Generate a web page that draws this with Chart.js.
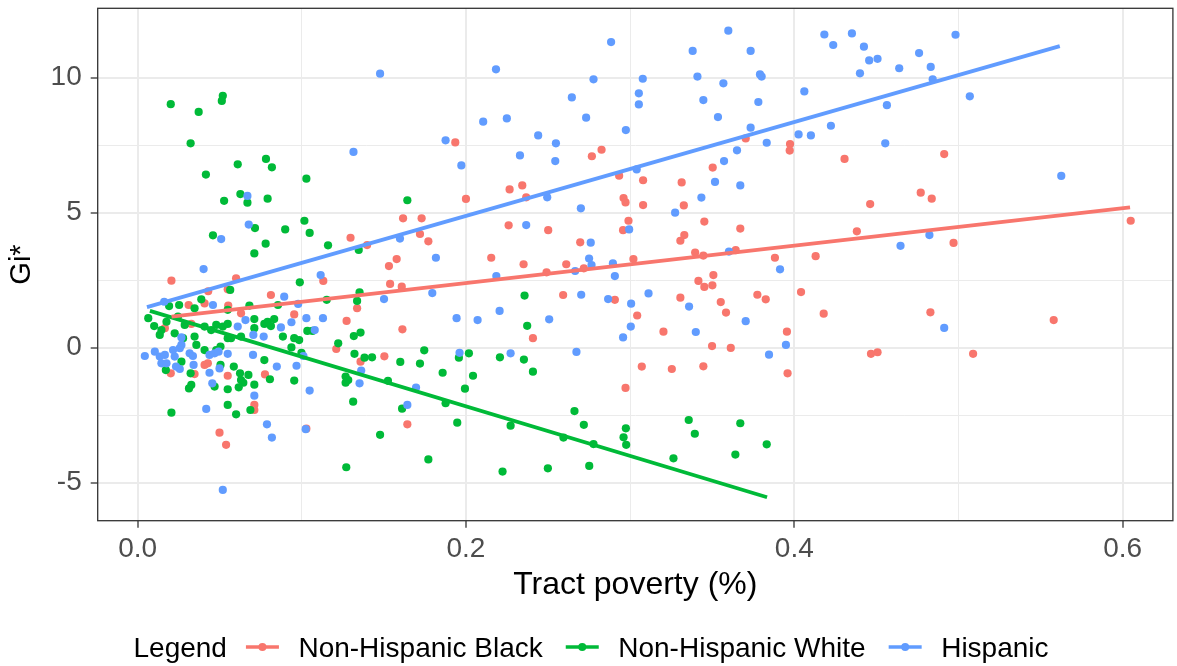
<!DOCTYPE html>
<html><head><meta charset="utf-8">
<script src="https://cdn.jsdelivr.net/npm/chart.js@4.4.0/dist/chart.umd.min.js"></script>
<style>html,body{margin:0;padding:0;background:#fff;}#wrap{width:1177px;height:666px;}</style>
</head><body><div id="wrap"><canvas id="c" width="1177" height="666"></canvas></div>
<script>
const groups = ['Non-Hispanic Black', 'Non-Hispanic White', 'Hispanic'];
const groupColors = ['#F8766D', '#00BA38', '#619CFF'];
const legendTitle = 'Legend';
const xTitle = 'Tract poverty (%)';
const yTitle = 'Gi*';

const blackPoints = [
[0.1297,4.07],[0.1935,7.60],[0.2826,7.33],[0.2767,7.09],[0.2933,6.37],[0.3079,6.20],[0.2266,5.86],[0.2343,6.01],[0.2367,5.57],[0.2,5.51],[0.296,5.54],[0.2972,5.38],[0.3079,5.28],[0.1617,4.79],[0.173,4.79],[0.172,4.21],[0.1771,3.94],[0.299,4.70],[0.2957,4.35],[0.226,4.53],[0.2501,4.35],[0.2696,3.90],[0.1398,3.80],[0.1578,3.28],[0.2154,3.33],[0.302,3.28],
[0.3704,7.75],[0.3974,7.54],[0.3972,7.30],[0.4306,6.99],[0.3503,6.67],[0.3314,6.12],[0.3327,5.27],[0.4462,5.32],[0.3452,4.67],[0.3671,4.41],[0.4381,4.31],[0.333,4.17],[0.3306,3.96],[0.3396,3.52],[0.3446,3.41],[0.3643,3.61],[0.3882,3.33],[0.413,3.39],
[0.4913,7.17],[0.477,5.74],[0.4837,5.52],[0.6049,4.70],[0.497,3.88],[0.4829,1.31],[0.558,1.02],[0.5089,-0.23],
[0.3416,2.47],[0.3452,2.25],[0.3501,2.31],[0.3507,2.69],[0.3306,1.85],[0.3552,1.69],[0.3584,1.30],[0.3775,1.96],[0.3826,1.79],[0.4041,2.06],[0.4179,1.26],[0.3043,1.19],[0.3203,0.59],[0.3955,0.59],[0.3499,0.06],[0.3613,-0.01],[0.3071,-0.70],[0.3254,-0.79],[0.3446,-0.69],[0.3959,-0.95],[0.4467,-0.23],[0.4507,-0.17],
[0.1531,3.02],[0.2351,3.09],[0.2611,3.09],[0.2718,2.94],[0.2491,2.79],[0.1538,2.36],[0.1609,2.26],[0.2592,1.95],[0.2907,1.77],[0.1613,0.68],[0.2408,0.35],[0.1503,-0.32],[0.2972,-1.49],[0.1643,-2.84],
[0.0206,2.48],[0.06,2.57],[0.0549,2.16],[0.043,2.09],[0.1131,2.47],[0.1337,1.46],[0.0812,1.95],[0.0954,1.23],[0.063,1.27],[0.0552,1.56],[0.0408,1.64],[0.0311,1.58],[0.0166,0.72],[0.0327,0.88],[0.1273,0.99],[0.121,-0.05],[0.1358,-0.52],[0.0776,-0.99],[0.1028,-3.00],[0.0202,-0.95],[0.0408,-0.64],[0.0428,-0.58],[0.0347,-0.98],[0.0549,-1.04],[0.0711,-2.12],[0.0711,-2.31],[0.0499,-3.15],[0.0539,-3.60]
];

const whitePoints = [
[0.0202,9.02],[0.0519,9.33],[0.0513,9.14],[0.0372,8.73],[0.0323,7.57],[0.061,6.79],[0.0782,6.99],[0.0818,6.68],[0.0416,6.41],[0.1028,6.26],[0.0626,5.69],[0.0527,5.44],[0.0669,5.37],[0.0792,5.52],[0.1016,4.70],[0.0715,4.43],[0.0459,4.16],[0.0899,4.38],[0.1048,4.25],[0.078,3.85],[0.0711,3.49],[0.116,3.79],[0.1347,3.62],[0.1643,5.46],
[0.3357,-2.68],[0.3394,-3.19],[0.3671,-2.80],[0.3832,-3.58],[0.3641,-3.96],[0.3264,-4.10],
[0.2357,1.93],[0.2373,0.81],[0.16,-0.53],[0.172,-0.59],[0.1746,-0.10],[0.1957,-0.37],[0.2018,-0.21],[0.2207,-0.36],[0.2353,-0.44],[0.2408,-0.89],[0.1858,-0.93],[0.2043,-1.04],[0.1994,-1.52],[0.1525,-1.23],[0.1876,-2.06],[0.1611,-2.26],[0.1947,-2.78],[0.1477,-3.23],[0.1771,-4.14],[0.2223,-4.59],[0.2272,-2.89],[0.2499,-4.47],[0.2594,-3.33],[0.2661,-2.35],[0.2718,-2.86],[0.2777,-3.57],[0.2751,-4.38],[0.2974,-2.99],[0.296,-3.32],[0.2976,-3.60],
[0.0564,2.14],[0.0988,2.42],[0.1352,2.05],[0.1337,1.73],[0.1152,1.77],[0.0855,1.58],[0.0681,1.56],[0.0711,1.06],[0.0549,1.40],[0.0388,1.79],[0.0253,1.58],[0.0192,1.54],[0.0347,1.46],[0.0065,1.09],[0.0101,0.80],[0.0135,0.47],[0.0145,0.65],[0.0176,0.96],[0.0246,1.15],[0.0287,0.84],[0.0226,0.53],[0.0277,0.35],[0.0358,0.10],[0.0347,0.41],[0.0408,0.78],[0.0448,0.65],[0.0479,0.84],[0.0519,0.78],[0.0549,0.88],[0.063,0.41],[0.0711,0.72],[0.0772,0.88],[0.0792,0.96],[0.0832,1.06],[0.0812,0.80],[0.0885,0.41],[0.1034,0.62],[0.1065,0.62],[0.0954,0.35],[0.0984,0.28],[0.0937,0.01],[0.0998,-0.19],[0.1222,0.16],[0.1317,0.43],[0.1358,0.56],[0.1321,-0.23],[0.1382,-0.37],[0.1428,-0.36],[0.1267,-1.07],[0.1283,-1.20],[0.1267,-1.30],[0.1313,-2.00],[0.1271,-4.43],[0.0772,-0.46],[0.0806,-1.17],[0.0954,-1.22],[0.0505,0.04],[0.0408,-0.09],[0.0479,-0.09],[0.0549,0.35],[0.0569,0.35],[0.0172,-0.83],[0.0267,-0.52],[0.0505,-0.64],[0.0323,-0.95],[0.0586,-0.70],[0.0624,-0.95],[0.0675,-1.01],[0.063,-1.20],[0.0644,-1.30],[0.0616,-1.47],[0.0711,-1.37],[0.0549,-1.54],[0.0469,-1.44],[0.0327,-1.38],[0.0313,-1.51],[0.0549,-2.12],[0.06,-2.47],[0.0687,-2.31],[0.0206,-2.41]
];

const hispanicPoints = [
[0.1315,7.25],[0.0669,5.62],[0.0677,4.56],[0.0509,4.02],
[0.1477,10.15],[0.2183,10.31],[0.2884,11.32],[0.2777,9.94],[0.3077,9.96],[0.3053,9.42],[0.3053,9.01],[0.2645,9.27],[0.2732,8.52],[0.2105,8.37],[0.2249,8.49],[0.2974,8.06],[0.244,7.86],[0.2548,7.57],[0.1876,7.68],[0.2329,7.12],[0.2544,6.91],[0.1972,6.75],[0.304,6.60],[0.2495,5.57],[0.27,5.16],[0.2367,4.54],[0.1598,4.04],[0.1817,3.33],[0.275,3.30],[0.276,3.89],[0.2994,4.38],
[0.3598,11.74],[0.3381,10.99],[0.3734,10.99],[0.341,10.04],[0.3568,9.79],[0.3791,10.12],[0.3801,10.04],[0.3446,9.17],[0.3781,9.10],[0.3535,8.54],[0.3734,8.15],[0.4061,9.49],[0.4183,11.60],[0.4237,11.21],[0.4351,11.64],[0.4424,11.15],[0.4456,10.64],[0.4507,10.70],[0.44,10.16],[0.4639,10.35],[0.4564,8.98],[0.4223,8.22],[0.4026,7.90],[0.4101,7.86],[0.3832,7.59],[0.4554,7.57],[0.3651,7.31],[0.3572,6.91],[0.3517,6.14],[0.3671,6.01],[0.3434,5.56],[0.3274,5.00],[0.4647,3.77],[0.3602,3.56],
[0.4982,11.59],[0.476,10.91],[0.4831,10.40],[0.4843,9.94],[0.5069,9.31],[0.5626,6.36],[0.4823,4.17],[0.4913,0.73],
[0.3913,2.90],[0.3112,2.01],[0.3359,1.52],[0.34,0.58],[0.3704,0.98],[0.3846,-0.26],[0.3949,0.10],
[0.2765,3.06],[0.2895,3.12],[0.2665,2.84],[0.2185,2.65],[0.2907,2.65],[0.1501,1.80],[0.1795,2.02],[0.2702,1.96],[0.2866,1.80],[0.3006,1.63],[0.3004,0.78],[0.2957,0.38],[0.2205,1.36],[0.1943,1.09],[0.2071,1.02],[0.2507,1.05],[0.1961,-0.19],[0.2272,-0.21],[0.2673,-0.16],[0.1696,-1.48],[0.1643,-2.12],
[0.0402,2.91],[0.1115,2.69],[0.0893,1.89],[0.0978,1.62],[0.0657,1.02],[0.0459,1.58],[0.0162,1.70],[0.0267,0.38],[0.061,0.78],[0.0705,0.47],[0.0768,0.41],[0.0873,0.75],[0.0937,0.94],[0.1028,1.09],[0.1129,1.09],[0.1079,0.65],[0.101,-0.31],[0.1362,-0.85],[0.1352,-1.32],[0.0848,-0.70],[0.0968,-0.67],[0.1048,-1.59],[0.1024,-3.02],[0.0788,-2.84],[0.0818,-3.33],[0.0703,-0.27],[0.0549,-0.23],[0.0438,-0.27],[0.0469,-0.21],[0.0493,-0.15],[0.0044,-0.31],[0.0105,-0.15],[0.0135,-0.33],[0.0145,-0.58],[0.0166,-0.27],[0.0216,-0.09],[0.0226,-0.33],[0.0257,-0.02],[0.0267,0.10],[0.0317,-0.21],[0.0337,-0.31],[0.0341,-0.64],[0.0234,-0.70],[0.0257,-0.79],[0.0176,-0.58],[0.0499,-0.77],[0.0438,-0.93],[0.0711,-1.78],[0.0455,-1.32],[0.0418,-2.27],[0.0519,-5.27]
];

// fitted regression lines (start and end)
const blackFit = [[0.0207,1.15],[0.6045,5.20]];
const whiteFit = [[0.0075,1.36],[0.3834,-5.54]];
const hispanicFit = [[0.0057,1.50],[0.5617,11.17]];

const xGridValues = [0, 0.1, 0.2, 0.3, 0.4, 0.5, 0.6];
const xMajorValues = [0, 0.2, 0.4, 0.6];
const xTickLabels = ['0.0', '0.2', '0.4', '0.6'];
const yGridValues = [-5, -2.5, 0, 2.5, 5, 7.5, 10];
const yMajorValues = [-5, 0, 5, 10];
const yTickLabels = ['-5', '0', '5', '10'];
const xRange = [-0.0243, 0.6306];
const yRange = [-6.41, 12.57];

const FONT = "'Liberation Sans', Arial, sans-serif";
const toXY = arr => arr.map(p => ({x: p[0], y: p[1]}));
const majorIdx = (list, v) => list.findIndex(m => Math.abs(m - v) < 1e-9);

const pointSets = [blackPoints, whitePoints, hispanicPoints];
const fitSets = [blackFit, whiteFit, hispanicFit];
const datasets = [];
fitSets.forEach((f, i) => datasets.push({
  label: groups[i] + ' fit', data: toXY(f), showLine: true, borderColor: groupColors[i],
  borderWidth: 3.8, pointRadius: 0, pointHoverRadius: 0, fill: false, order: 0
}));
pointSets.forEach((p, i) => datasets.push({
  label: groups[i], data: toXY(p), showLine: false, backgroundColor: groupColors[i],
  borderWidth: 0, pointRadius: 4.1, pointHoverRadius: 4.1, order: 3 - i
}));

const frame = {
  id: 'frame',
  afterDraw(chart) {
    const {ctx, chartArea: a} = chart;
    ctx.save();
    ctx.strokeStyle = '#333333';
    ctx.lineWidth = 1.3;
    ctx.strokeRect(a.left, a.top, a.right - a.left, a.bottom - a.top);
    // legend
    ctx.font = '28px ' + FONT;
    ctx.textBaseline = 'alphabetic';
    ctx.fillStyle = '#000';
    const baseY = 657, keyY = 647;
    let x = 133.5;
    ctx.fillText(legendTitle, x, baseY);
    x += ctx.measureText(legendTitle).width + 19;
    groups.forEach((g, i) => {
      ctx.strokeStyle = groupColors[i];
      ctx.lineWidth = 3.6;
      ctx.beginPath(); ctx.moveTo(x, keyY); ctx.lineTo(x + 33, keyY); ctx.stroke();
      ctx.fillStyle = groupColors[i];
      ctx.beginPath(); ctx.arc(x + 16.5, keyY, 4, 0, Math.PI * 2); ctx.fill();
      x += 33 + 19.5;
      ctx.fillStyle = '#000';
      ctx.fillText(g, x, baseY);
      x += ctx.measureText(g).width + 23;
    });
    ctx.restore();
  }
};

new Chart(document.getElementById('c'), {
  type: 'scatter',
  data: {datasets},
  plugins: [frame],
  options: {
    responsive: false, animation: false, events: [],
    layout: {padding: {top: 8.3, right: 2, left: 0, bottom: 0}},
    plugins: {legend: {display: false}, tooltip: {enabled: false}},
    scales: {
      x: {
        type: 'linear', min: xRange[0], max: xRange[1],
        afterBuildTicks: s => { s.ticks = xGridValues.map(v => ({value: v})); },
        afterFit: s => { s.height = 145.3; s.paddingLeft = 0; s.paddingRight = 0; },
        ticks: {
          autoSkip: false, maxRotation: 0, padding: 4.5, color: '#4D4D4D',
          font: {family: FONT, size: 28},
          callback: v => { const k = majorIdx(xMajorValues, v); return k >= 0 ? xTickLabels[k] : ''; }
        },
        grid: {
          color: '#EBEBEB', drawTicks: true, tickLength: 7, tickWidth: 1.3,
          lineWidth: c => majorIdx(xMajorValues, c.tick.value) >= 0 ? 2 : 1,
          tickColor: c => majorIdx(xMajorValues, c.tick.value) >= 0 ? '#333333' : 'rgba(0,0,0,0)'
        },
        border: {display: false},
        title: {display: true, text: xTitle, color: '#000', font: {family: FONT, size: 32}, padding: {top: 0, bottom: 62}}
      },
      y: {
        type: 'linear', min: yRange[0], max: yRange[1],
        afterBuildTicks: s => { s.ticks = yGridValues.map(v => ({value: v})); },
        afterFit: s => { s.width = 97.7; s.paddingTop = 0; s.paddingBottom = 0; },
        ticks: {
          autoSkip: false, padding: 9, color: '#4D4D4D',
          font: {family: FONT, size: 28},
          callback: v => { const k = majorIdx(yMajorValues, v); return k >= 0 ? yTickLabels[k] : ''; }
        },
        grid: {
          color: '#EBEBEB', drawTicks: true, tickLength: 7, tickWidth: 1.3,
          lineWidth: c => majorIdx(yMajorValues, c.tick.value) >= 0 ? 2 : 1,
          tickColor: c => majorIdx(yMajorValues, c.tick.value) >= 0 ? '#333333' : 'rgba(0,0,0,0)'
        },
        border: {display: false},
        title: {display: true, text: yTitle, color: '#000', font: {family: FONT, size: 29}, padding: {top: 4.6, bottom: 0}}
      }
    }
  }
});
</script></body></html>
